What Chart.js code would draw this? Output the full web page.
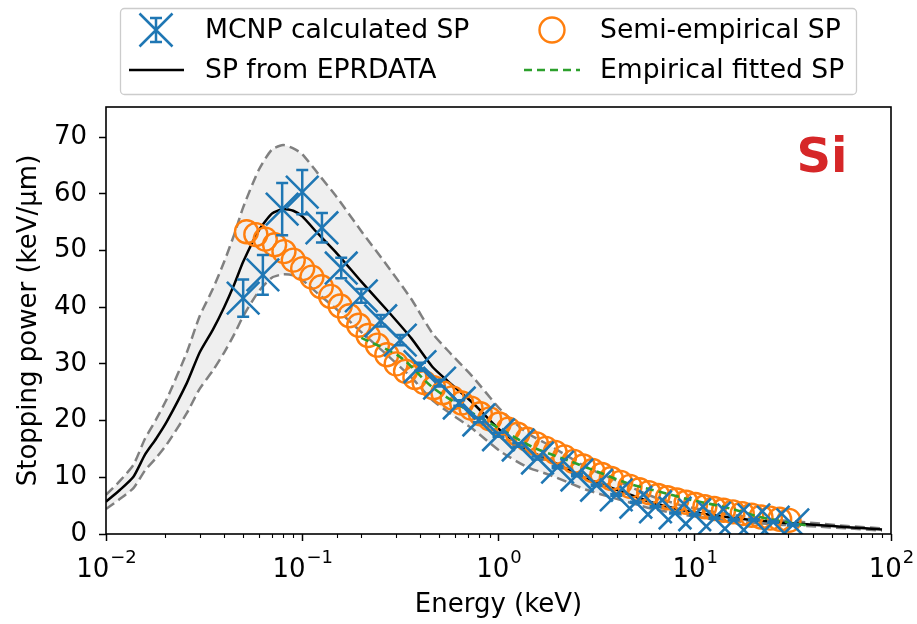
<!DOCTYPE html>
<html>
<head>
<meta charset="utf-8">
<script src="https://cdn.jsdelivr.net/npm/chart.js@4.4.0/dist/chart.umd.min.js"></script>
<style>
html, body { margin: 0; padding: 0; background: #fff; }
#wrap { width: 917px; height: 624px; }
</style>
</head>
<body>
<div id="wrap"><canvas id="spChart" width="917" height="624"></canvas></div>
<script>
// MCNP 계산 저지능 (에러바 포함)
var mcnpEnergy = [0.05, 0.063, 0.079, 0.1, 0.126, 0.158, 0.2, 0.251, 0.316, 0.398, 0.501, 0.631, 0.794, 1.0, 1.26, 1.58, 2.0, 2.51, 3.16, 3.98, 5.01, 6.31, 7.94, 10, 12.6, 15.8, 20, 25.1, 31.6];
var mcnpSP = [41.6, 45.7, 57.3, 60.3, 54.0, 46.9, 42.0, 37.6, 34.2, 29.5, 26.6, 23.1, 20.1, 17.5, 15.7, 13.4, 11.8, 10.4, 8.6, 6.9, 5.6, 4.8, 3.7, 3.4, 2.8, 2.5, 2.5, 2.1, 1.6];
var mcnpErr = [3.3, 3.5, 4.6, 3.9, 2.6, 1.8, 1.2, 1.0, 0.9, 0.7, 0.6, 0.5, 0.4, 0.35, 0.3, 0.25, 0.2, 0.2, 0.15, 0.15, 0.1, 0.1, 0.1, 0.1, 0.1, 0.1, 0.1, 0.1, 0.1];

// EPRDATA 저지능 및 상/하한 (회색 점선)
var eprEnergy = [0.01, 0.0118, 0.0138, 0.0158, 0.018, 0.0204, 0.0258, 0.03, 0.035, 0.04, 0.045, 0.05, 0.06, 0.07, 0.08, 0.09, 0.1, 0.12, 0.15, 0.2, 0.27, 0.36, 0.46, 0.55, 0.74, 1.02, 1.4, 1.83, 2.8, 4.0, 6.0, 8.7, 13, 19, 28, 42, 60, 90];
var eprSP = [5.7, 7.8, 10.1, 14.0, 16.8, 19.8, 26.6, 32.0, 36.0, 40.0, 44.0, 48.0, 53.5, 56.5, 57.3, 57.0, 56.0, 53.0, 49.5, 44.5, 39.5, 34.5, 29.5, 27.0, 23.1, 18.3, 14.8, 13.0, 9.8, 7.8, 5.6, 4.2, 3.2, 2.5, 2.0, 1.6, 1.2, 0.8];
var eprUpper = [6.9, 9.4, 12.2, 16.8, 20.2, 23.8, 32.0, 38.4, 43.2, 48.0, 52.8, 57.6, 64.2, 67.8, 68.6, 68.0, 67.0, 63.6, 59.4, 53.4, 47.4, 41.4, 35.4, 32.4, 27.7, 22.0, 17.8, 15.6, 11.8, 9.4, 6.7, 5.0, 3.8, 3.0, 2.4, 1.9, 1.4, 1.0];
var eprLower = [4.4, 6.2, 8.1, 11.2, 13.4, 15.8, 21.3, 25.6, 28.8, 32.0, 35.2, 38.4, 42.8, 45.2, 45.8, 45.6, 44.8, 42.4, 39.6, 35.6, 31.6, 27.6, 23.6, 21.6, 18.5, 14.6, 11.8, 10.4, 7.8, 6.2, 4.5, 3.4, 2.6, 2.0, 1.6, 1.3, 1.0, 0.6];

// 반경험적 저지능 (주황 원)
var semiEnergy = [0.052, 0.058, 0.0648, 0.0723, 0.0807, 0.09, 0.1005, 0.112, 0.125, 0.1396, 0.156, 0.174, 0.194, 0.2165, 0.2416, 0.2697, 0.301, 0.336, 0.375, 0.418, 0.467, 0.521, 0.581, 0.649, 0.724, 0.808, 0.902, 1.006, 1.123, 1.253, 1.399, 1.561, 1.742, 1.944, 2.17, 2.421, 2.702, 3.016, 3.366, 3.756, 4.192, 4.678, 5.221, 5.827, 6.503, 7.257, 8.099, 9.039, 10.09, 11.26, 12.56, 14.02, 15.65, 17.46, 19.49, 21.75, 24.27, 27.08, 30.2];
var semiSP = [53.3, 52.8, 52.0, 51.0, 49.8, 48.3, 46.8, 45.3, 43.6, 41.9, 40.2, 38.5, 36.8, 35.0, 33.3, 31.6, 30.0, 28.7, 27.6, 26.7, 25.8, 24.9, 24.0, 23.1, 22.2, 21.2, 20.3, 19.4, 18.5, 17.6, 16.7, 15.9, 15.1, 14.4, 13.6, 12.8, 12.0, 11.2, 10.5, 9.8, 9.1, 8.4, 7.8, 7.3, 6.8, 6.4, 6.0, 5.6, 5.2, 4.8, 4.5, 4.2, 3.9, 3.6, 3.3, 3.0, 2.8, 2.6, 2.4];

// 경험식 피팅 (녹색 점선)
var fitEnergy = [0.2, 0.316, 0.46, 0.69, 1.05, 1.5, 2.25, 3.3, 4.5, 6.7, 9.6, 14.8, 21.5, 31.6, 38];
var fitSP = [34.6, 31.2, 25.9, 21.9, 18.3, 15.3, 13.0, 10.8, 9.0, 7.4, 6.0, 4.6, 3.0, 1.9, 1.5];

// 축 눈금
var xTicksMajor = [0.01, 0.1, 1, 10, 100];
var xTickExp = ['\u22122', '\u22121', '0', '1', '2'];
var yTicks = [0, 10, 20, 30, 40, 50, 60, 70];

function toPoints(xs, ys) {
	return xs.map(function(x, i) { return { x: x, y: ys[i] }; });
}

function majorIndex(v) {
	for (var i = 0; i < xTicksMajor.length; i++) {
		if (Math.abs(v / xTicksMajor[i] - 1) < 1e-6) return i;
	}
	return -1;
}

Chart.defaults.font.family = "'DejaVu Sans', sans-serif";
Chart.defaults.color = '#000';

// 에러바 그리기
var errorBarPlugin = {
	id: 'errorBars',
	afterDatasetsDraw: function(chart) {
		var ctx = chart.ctx;
		var yScale = chart.scales.y;
		var meta = chart.getDatasetMeta(0);
		var area = chart.chartArea;
		ctx.save();
		ctx.beginPath();
		ctx.rect(area.left, area.top, area.right - area.left, area.bottom - area.top);
		ctx.clip();
		ctx.strokeStyle = '#1f77b4';
		ctx.lineWidth = 2.5;
		meta.data.forEach(function(pt, i) {
			var x = pt.x;
			var y1 = yScale.getPixelForValue(mcnpSP[i] + mcnpErr[i]);
			var y2 = yScale.getPixelForValue(mcnpSP[i] - mcnpErr[i]);
			ctx.beginPath();
			ctx.moveTo(x, y1); ctx.lineTo(x, y2);
			ctx.moveTo(x - 6, y1); ctx.lineTo(x + 6, y1);
			ctx.moveTo(x - 6, y2); ctx.lineTo(x + 6, y2);
			ctx.stroke();
		});
		ctx.restore();
	}
};

// 프레임, 눈금 라벨, Si 텍스트, 범례
var decorPlugin = {
	id: 'decor',
	afterDraw: function(chart) {
		var ctx = chart.ctx;
		var area = chart.chartArea;
		var xScale = chart.scales.x;
		ctx.save();

		// 보조 눈금
		ctx.strokeStyle = '#000';
		ctx.lineWidth = 1.1;
		xScale.ticks.forEach(function(t) {
			if (majorIndex(t.value) >= 0) return;
			var px = Math.round(xScale.getPixelForValue(t.value)) + 0.5;
			ctx.beginPath();
			ctx.moveTo(px, area.bottom);
			ctx.lineTo(px, area.bottom + 4);
			ctx.stroke();
		});

		// x축 라벨 (10의 거듭제곱)
		ctx.fillStyle = '#000';
		ctx.textAlign = 'left';
		ctx.textBaseline = 'alphabetic';
		xTicksMajor.forEach(function(v, i) {
			var px = xScale.getPixelForValue(v);
			ctx.font = "26px 'DejaVu Sans'";
			var w1 = ctx.measureText('10').width;
			ctx.font = "18px 'DejaVu Sans'";
			var w2 = ctx.measureText(xTickExp[i]).width;
			var x0 = px - (w1 + w2) / 2;
			ctx.font = "26px 'DejaVu Sans'";
			ctx.fillText('10', x0, 577);
			ctx.font = "18px 'DejaVu Sans'";
			ctx.fillText(xTickExp[i], x0 + w1 + 1, 563);
		});

		// 테두리
		ctx.lineWidth = 1.6;
		ctx.strokeRect(area.left, area.top, area.right - area.left, area.bottom - area.top);

		// Si 표시
		ctx.fillStyle = '#d62728';
		ctx.font = "bold 48px 'DejaVu Sans'";
		ctx.textAlign = 'center';
		ctx.textBaseline = 'middle';
		ctx.fillText('Si', 822, 160);

		// 범례 상자
		ctx.beginPath();
		ctx.roundRect(120.5, 8.5, 736, 86, 4);
		ctx.fillStyle = 'rgba(255,255,255,0.8)';
		ctx.fill();
		ctx.strokeStyle = '#cccccc';
		ctx.lineWidth = 1.3;
		ctx.stroke();

		// MCNP 마커
		ctx.strokeStyle = '#1f77b4';
		ctx.lineWidth = 2.5;
		ctx.beginPath();
		ctx.moveTo(156 - 16.5, 30 - 16.5); ctx.lineTo(156 + 16.5, 30 + 16.5);
		ctx.moveTo(156 + 16.5, 30 - 16.5); ctx.lineTo(156 - 16.5, 30 + 16.5);
		ctx.moveTo(156, 18); ctx.lineTo(156, 42);
		ctx.moveTo(150, 18); ctx.lineTo(162, 18);
		ctx.moveTo(150, 42); ctx.lineTo(162, 42);
		ctx.stroke();

		// EPRDATA 선
		ctx.strokeStyle = '#000';
		ctx.lineWidth = 2.5;
		ctx.beginPath();
		ctx.moveTo(129, 70); ctx.lineTo(184, 70);
		ctx.stroke();

		// 반경험 원
		ctx.strokeStyle = '#ff7f0e';
		ctx.lineWidth = 2.4;
		ctx.beginPath();
		ctx.arc(552, 30, 12.5, 0, Math.PI * 2);
		ctx.stroke();

		// 피팅 점선
		ctx.strokeStyle = '#2ca02c';
		ctx.lineWidth = 2.5;
		ctx.setLineDash([8, 5]);
		ctx.beginPath();
		ctx.moveTo(524, 70); ctx.lineTo(580, 70);
		ctx.stroke();
		ctx.setLineDash([]);

		// 범례 텍스트
		ctx.fillStyle = '#000';
		ctx.font = "26.6px 'DejaVu Sans'";
		ctx.textAlign = 'left';
		ctx.textBaseline = 'middle';
		ctx.fillText('MCNP calculated SP', 205, 31);
		ctx.fillText('SP from EPRDATA', 205, 71);
		ctx.fillText('Semi-empirical SP', 600, 31);
		ctx.fillText('Empirical fitted SP', 600, 71);

		ctx.restore();
	}
};

var ctx = document.getElementById('spChart').getContext('2d');
var spChart = new Chart(ctx, {
	type: 'line',
	data: {
		datasets: [{
			label: 'MCNP calculated SP',
			data: toPoints(mcnpEnergy, mcnpSP),
			showLine: false,
			pointStyle: 'crossRot',
			pointRadius: 23,
			pointBorderWidth: 2.6,
			pointBorderColor: '#1f77b4',
			pointBackgroundColor: 'rgba(0,0,0,0)'
		}, {
			label: 'Empirical fitted SP',
			data: toPoints(fitEnergy, fitSP),
			borderColor: '#2ca02c',
			borderWidth: 2.6,
			borderDash: [8, 5],
			pointRadius: 0,
			tension: 0.3,
			fill: false
		}, {
			label: 'Semi-empirical SP',
			data: toPoints(semiEnergy, semiSP),
			showLine: false,
			pointStyle: 'circle',
			pointRadius: 11.5,
			pointBorderWidth: 2.4,
			pointBorderColor: '#ff7f0e',
			pointBackgroundColor: 'rgba(0,0,0,0)'
		}, {
			label: 'SP from EPRDATA',
			data: toPoints(eprEnergy, eprSP),
			borderColor: '#000',
			borderWidth: 2.5,
			pointRadius: 0,
			tension: 0.2,
			fill: false
		}, {
			label: 'upper',
			data: toPoints(eprEnergy, eprUpper),
			borderColor: '#808080',
			borderWidth: 2.5,
			borderDash: [10, 5],
			pointRadius: 0,
			tension: 0.2,
			fill: '+1',
			backgroundColor: 'rgba(128,128,128,0.13)'
		}, {
			label: 'lower',
			data: toPoints(eprEnergy, eprLower),
			borderColor: '#808080',
			borderWidth: 2.5,
			borderDash: [10, 5],
			pointRadius: 0,
			tension: 0.2,
			fill: false
		}]
	},
	options: {
		responsive: false,
		animation: false,
		devicePixelRatio: 1,
		layout: { padding: { top: 107, right: 26, left: 0, bottom: 0 } },
		plugins: {
			legend: { display: false },
			tooltip: { enabled: false },
			filler: { drawTime: 'beforeDatasetsDraw' }
		},
		scales: {
			x: {
				type: 'logarithmic',
				min: 0.01,
				max: 100,
				border: { display: false },
				grid: {
					drawOnChartArea: false,
					tickLength: 7,
					tickWidth: 1.5,
					tickColor: function(c) { return majorIndex(c.tick.value) >= 0 ? '#000' : 'rgba(0,0,0,0)'; }
				},
				ticks: {
					autoSkip: false,
					maxRotation: 0,
					minRotation: 0,
					padding: 10,
					font: { size: 26 },
					callback: function() { return ''; }
				},
				title: { display: true, text: 'Energy (keV)', color: '#000', font: { size: 26 }, padding: { top: 0, bottom: 3 } },
				afterFit: function(s) { s.height = 90; }
			},
			y: {
				min: 0,
				max: 75.3,
				border: { display: false },
				grid: { drawOnChartArea: false, tickLength: 7, tickWidth: 1.5, tickColor: '#000' },
				afterBuildTicks: function(s) {
					s.ticks = yTicks.map(function(v) { return { value: v }; });
				},
				ticks: { padding: 12, color: '#000', font: { size: 26 } },
				title: { display: true, text: 'Stopping power (keV/\u03BCm)', color: '#000', font: { size: 26 }, padding: { top: 14, bottom: 0 } },
				afterFit: function(s) { s.width = 106; }
			}
		}
	},
	plugins: [errorBarPlugin, decorPlugin]
});
</script>
</body>
</html>
